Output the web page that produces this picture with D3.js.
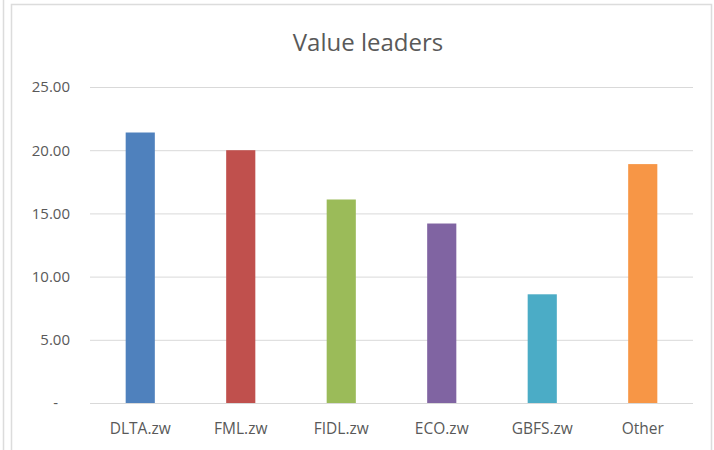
<!DOCTYPE html>
<html>
<head>
<meta charset="utf-8">
<script src="https://cdn.jsdelivr.net/npm/d3@7"></script>
<style>
	body { margin: 0; background: #fff; }
	text { font-family: "Open Sans", "Noto Sans", sans-serif; fill: #595959; }
</style>
</head>
<body>
<svg id="chart" width="714" height="450"></svg>
<script>

	var categories = ["DLTA.zw", "FML.zw", "FIDL.zw", "ECO.zw", "GBFS.zw", "Other"],
		values = [21.4, 20.0, 16.1, 14.2, 8.6, 18.9],
		colors = ["#4f81bd", "#c0504d", "#9bbb59", "#8064a2", "#4bacc6", "#f79646"],
		yTicks = [0, 5, 10, 15, 20, 25];

	var width = 714,
		height = 450,
		margin = { top: 87, right: 21, bottom: 47, left: 90 };

	var svg = d3.select("#chart");

	// frame lines like the screenshot edge
	svg.append("line")
		.attr("x1", 3.5).attr("x2", 3.5).attr("y1", 0).attr("y2", height)
		.attr("stroke", "#dcdcdc").attr("stroke-width", 1.5);
	svg.append("path")
		.attr("d", "M11.5," + height + "V4.5H711.5V" + height)
		.attr("fill", "none").attr("stroke", "#dcdcdc").attr("stroke-width", 1.5);

	var x = d3.scaleBand()
		.domain(categories)
		.range([margin.left, width - margin.right])
		.paddingInner(0.71)
		.paddingOuter(0.355);

	var y = d3.scaleLinear()
		.domain([0, 25])
		.range([height - margin.bottom, margin.top]);

	// 1. gridlines + y labels
	var yAxis = d3.axisLeft(y)
		.tickValues(yTicks)
		.tickSize(-(width - margin.left - margin.right))
		.tickPadding(20)
		.tickFormat(function(d) { return d === 0 ? "-" : d3.format(".2f")(d); });

	var gy = svg.append("g")
		.attr("transform", "translate(" + margin.left + ",0)")
		.call(yAxis);
	gy.select(".domain").remove();
	gy.selectAll("line").attr("stroke", "#d9d9d9");
	gy.selectAll("text")
		.attr("font-size", "15px")
		.attr("x", -20)
		.attr("dx", function(d) { return d === 0 ? "-12" : "0"; });

	// 2. bars
	svg.selectAll("rect.bar")
		.data(values)
		.enter()
		.append("rect")
		.attr("class", "bar")
		.attr("x", function(d, i) { return x(categories[i]); })
		.attr("y", function(d) { return y(d); })
		.attr("width", x.bandwidth())
		.attr("height", function(d) { return y(0) - y(d); })
		.attr("fill", function(d, i) { return colors[i]; });

	// 3. category labels
	var xAxis = d3.axisBottom(x).tickSize(0).tickPadding(20);
	var gx = svg.append("g")
		.attr("transform", "translate(0," + y(0) + ")")
		.call(xAxis);
	gx.select(".domain").remove();
	gx.selectAll("text").attr("font-size", "15.5px");

	// 4. title
	svg.append("text")
		.attr("x", 368)
		.attr("y", 51)
		.attr("text-anchor", "middle")
		.attr("font-size", "24px")
		.text("Value leaders");

</script>
</body>
</html>
